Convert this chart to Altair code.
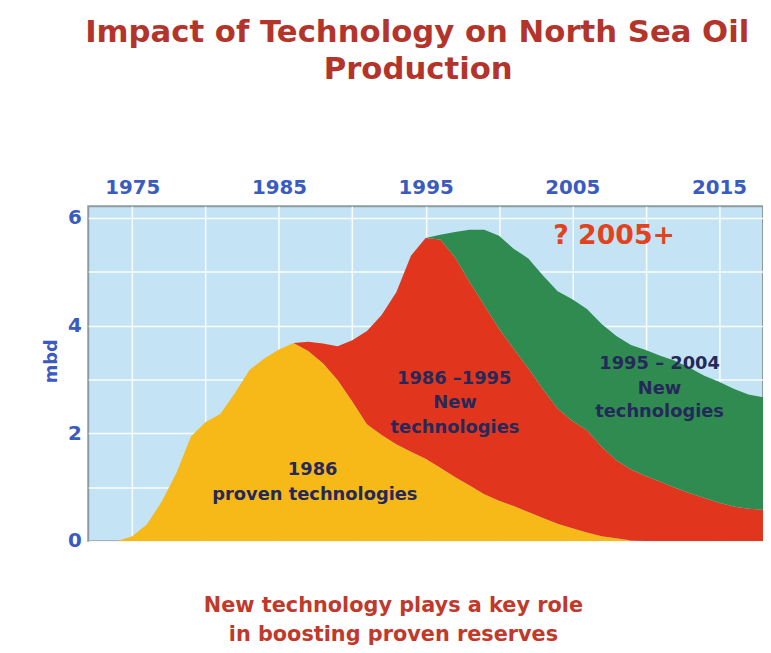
import altair as alt
import pandas as pd

# ---------------- data ----------------
years = list(range(1974, 2019))

proven_1986 = [0.00, 0.09, 0.31, 0.73, 1.26, 1.94, 2.21, 2.36, 2.75, 3.18,
               3.39, 3.56, 3.68, 3.53, 3.30, 2.99, 2.59, 2.17, 1.97, 1.80,
               1.66, 1.53, 1.36, 1.19, 1.03, 0.87, 0.75, 0.65, 0.54, 0.43,
               0.32, 0.24, 0.16, 0.09, 0.05, 0.01, 0.00, 0.00, 0.00, 0.00,
               0.00, 0.00, 0.00, 0.00, 0.00]

new_1986_1995 = [0.00] * 12 + [
    0.00, 0.17, 0.37, 0.63, 1.14, 1.73, 2.23, 2.82, 3.64, 4.10,
    4.24, 4.08, 3.78, 3.51, 3.20, 2.92, 2.67, 2.39, 2.14, 1.99,
    1.90, 1.66, 1.45, 1.32, 1.21, 1.10, 0.99, 0.89, 0.80, 0.71,
    0.64, 0.60, 0.58]

new_1995_2004 = [0.00] * 22 + [
    0.09, 0.47, 0.97, 1.40, 1.72, 1.86, 2.04, 2.11, 2.18, 2.26,
    2.25, 2.28, 2.31, 2.31, 2.34, 2.34, 2.36, 2.33, 2.27, 2.25,
    2.19, 2.12, 2.09]

series_names = ["1986 proven technologies",
                "1986-1995 new technologies",
                "1995-2004 new technologies"]
series_colors = ["#f6b918", "#e1361d", "#2f8b50"]

tick_years = [1975, 1980, 1985, 1990, 1995, 2000, 2005, 2010, 2015]
y_ticks = [0, 1, 2, 3, 4, 5, 6]

ann_text = ["1986", "proven technologies",
            "1986 \u20131995", "New", "technologies",
            "1995 \u2013 2004", "New", "technologies"]
ann_year = [1987.3, 1987.45, 1996.95, 1997.0, 1997.0, 2010.95, 2010.95, 2010.95]
ann_value = [1.31, 0.85, 3.00, 2.56, 2.10, 3.28, 2.82, 2.39]

future_text = ["? 2005+"]
future_year = [2007.85]
future_value = [5.67]

title_lines = ["Impact of Technology on North Sea Oil", "Production"]
caption_lines = ["New technology plays a key role", "in boosting proven reserves"]

# ---------------- build tables ----------------
series_vals = [proven_1986, new_1986_1995, new_1995_2004]
rows = []
for k, (name, vals) in enumerate(zip(series_names, series_vals)):
    for yr, v in zip(years, vals):
        rows.append({"year": yr, "mbd": v, "series": name, "order": k})
df = pd.DataFrame(rows)

ann_df = pd.DataFrame({"text": ann_text, "year": ann_year, "mbd": ann_value})
fut_df = pd.DataFrame({"text": future_text, "year": future_year, "mbd": future_value})

FONT = "DejaVu Sans"
BLUE = "#3a5bbf"
NAVY = "#25295a"
DARKRED = "#b3342a"

x_scale = alt.Scale(domain=[1972, 2018], nice=False, zero=False)
y_scale = alt.Scale(domain=[0, 6.22], nice=False)

x_axis = alt.Axis(
    orient="top", values=tick_years, format="d",
    labelExpr="datum.value % 10 == 5 ? datum.label : ''",
    labelFont=FONT, labelFontWeight="bold", labelFontSize=20, labelColor=BLUE,
    labelPadding=9, labelOverlap=False, ticks=False, domain=False,
    grid=True, gridColor="white", gridWidth=1.5, gridOpacity=0.9, title=None)

y_axis = alt.Axis(
    values=y_ticks, format="d",
    labelExpr="datum.value % 2 == 0 ? datum.label : ''",
    labelFont=FONT, labelFontWeight="bold", labelFontSize=20, labelColor=BLUE,
    labelPadding=7, labelOverlap=False, ticks=False, domain=False,
    grid=True, gridColor="white", gridWidth=1.5, gridOpacity=0.9,
    title="mbd", titleFont=FONT, titleFontWeight="bold", titleFontSize=18,
    titleColor=BLUE, titleAngle=270, titleX=-37, titleY=156,
    titleAlign="center", titleBaseline="middle")

areas = alt.Chart(df).mark_area(interpolate="linear").encode(
    x=alt.X("year:Q", scale=x_scale, axis=x_axis),
    y=alt.Y("mbd:Q", scale=y_scale, axis=y_axis, stack="zero"),
    color=alt.Color("series:N",
                    scale=alt.Scale(domain=series_names, range=series_colors),
                    legend=None),
    order=alt.Order("order:Q", sort="ascending"),
)

ann = alt.Chart(ann_df).mark_text(
    font=FONT, fontWeight="bold", fontSize=18, color=NAVY,
    align="center", baseline="middle"
).encode(x=alt.X("year:Q", scale=x_scale), y=alt.Y("mbd:Q", scale=y_scale), text="text:N")

fut = alt.Chart(fut_df).mark_text(
    font=FONT, fontWeight="bold", fontSize=27, color="#e2431f",
    align="center", baseline="middle"
).encode(x=alt.X("year:Q", scale=x_scale), y=alt.Y("mbd:Q", scale=y_scale), text="text:N")

def free_text(line, x, y, size, color):
    return alt.Chart(pd.DataFrame({"text": [line]})).mark_text(
        font=FONT, fontWeight="bold", fontSize=size, color=color,
        align="center", baseline="middle"
    ).encode(x=alt.value(x), y=alt.value(y), text="text:N")

title1 = free_text(title_lines[0], 332, -175, 31, DARKRED)
title2 = free_text(title_lines[1], 333, -137, 31, DARKRED)
cap1 = free_text(caption_lines[0], 308, 404, 21, "#c0392b")
cap2 = free_text(caption_lines[1], 308, 433, 21, "#c0392b")

chart = alt.layer(areas, ann, fut, title1, title2, cap1, cap2).properties(
    width=681, height=338,
    autosize=alt.AutoSizeParams(type="none"),
    padding={"left": 81, "top": 197, "right": 0, "bottom": 111},
    background="white",
).configure_view(
    fill="#c4e4f5", stroke="#8d9aa1", strokeWidth=2
)

chart.save("out.html", embed_options={"renderer": "svg", "actions": False})
